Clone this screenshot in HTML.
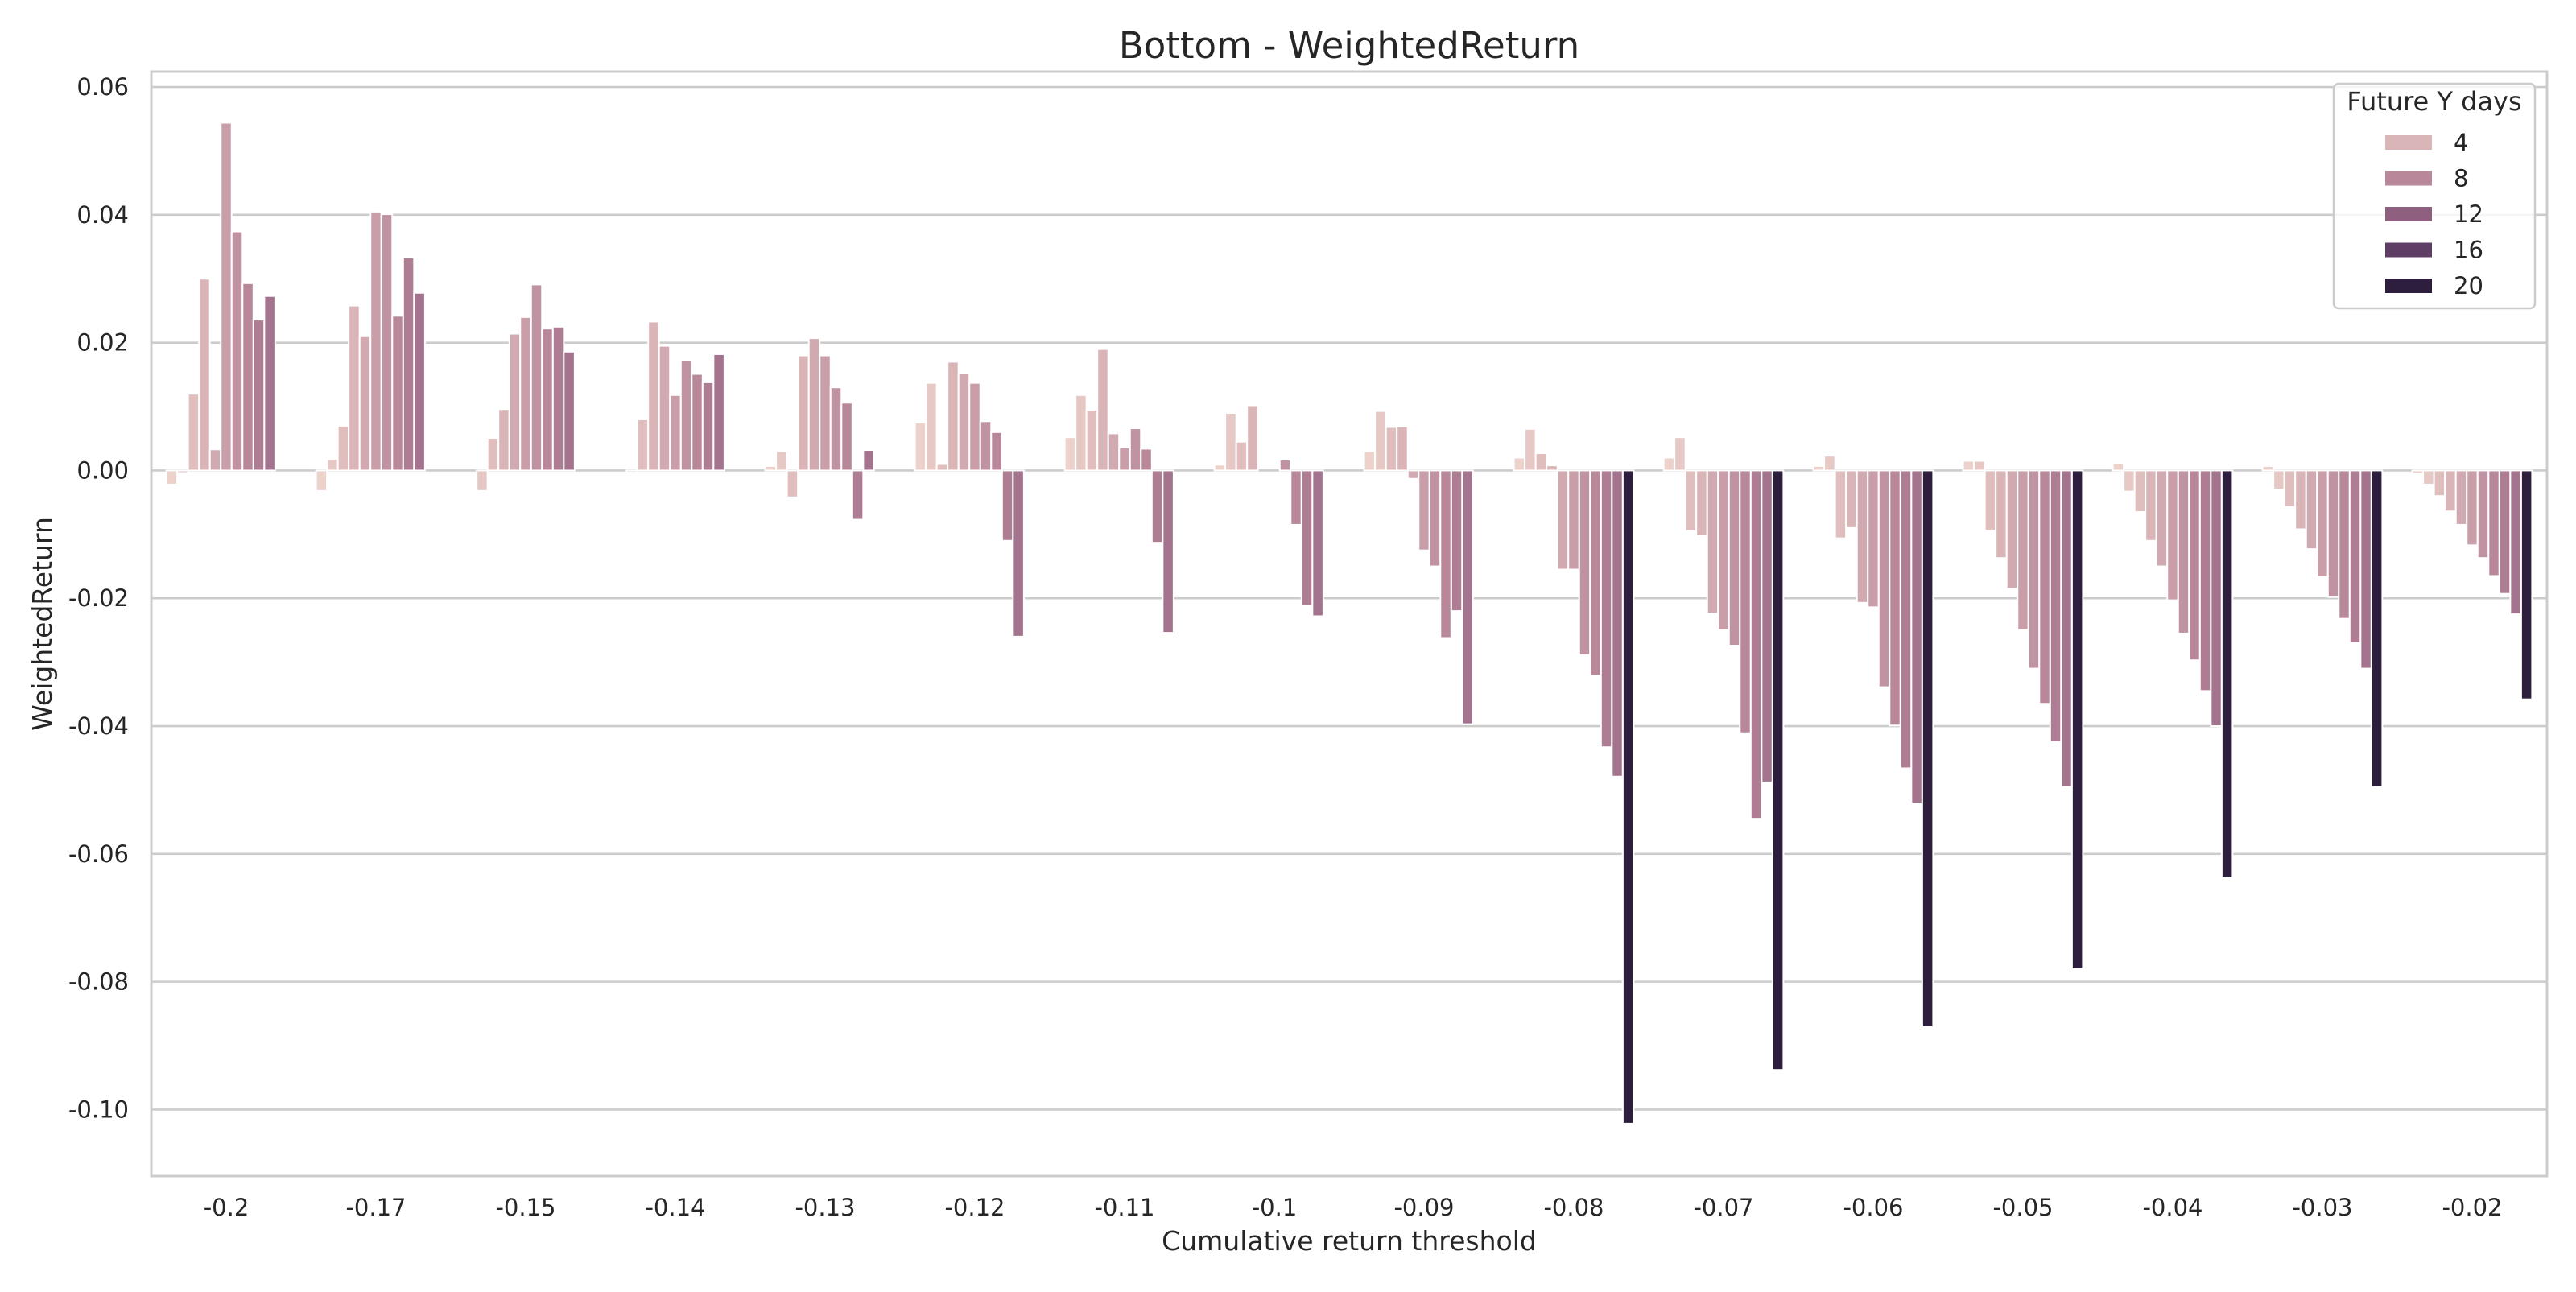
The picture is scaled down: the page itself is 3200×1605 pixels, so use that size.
<!DOCTYPE html>
<html><head><meta charset="utf-8"><style>
html,body{margin:0;padding:0;background:#fff;}
svg text{font-family:"DejaVu Sans","Liberation Sans",sans-serif;fill:#262626;}
</style></head><body>
<svg id="chart" width="3200" height="1600" viewBox="0 0 3200 1600" xmlns="http://www.w3.org/2000/svg">
<rect width="3200" height="1600" fill="#fff"/>
<g id="grid"></g>
<g id="bars"></g>
<g id="axes"></g>
</svg>
<script>
const categories = ["-0.2","-0.17","-0.15","-0.14","-0.13","-0.12","-0.11","-0.1","-0.09","-0.08","-0.07","-0.06","-0.05","-0.04","-0.03","-0.02"];
const hueLevels = [1,2,3,4,5,6,7,8,9,10,20];
const yTicks = [0.06,0.04,0.02,0,-0.02,-0.04,-0.06,-0.08,-0.10];
const yTickLabels = ["0.06","0.04","0.02","0.00","-0.02","-0.04","-0.06","-0.08","-0.10"];
const legendLevels = [4,8,12,16,20];
const g01 = [-0.0022,-0.0004,0.0120,0.0300,0.0033,0.0544,0.0374,0.0293,0.0236,0.0273,0];
const g02 = [-0.0032,0.0018,0.0070,0.0258,0.0210,0.0405,0.0401,0.0242,0.0333,0.0278,0];
const g03 = [0,-0.0032,0.0051,0.0096,0.0214,0.0240,0.0291,0.0222,0.0225,0.0186,0];
const g04 = [0,-0.0003,0.0080,0.0233,0.0195,0.0118,0.0173,0.0151,0.0138,0.0182,0];
const g05 = [0.0007,0.0030,-0.0042,0.0180,0.0207,0.0180,0.0130,0.0106,-0.0077,0.0032,0];
const g06 = [0.0075,0.0137,0.0010,0.0170,0.0153,0.0137,0.0077,0.0060,-0.0110,-0.0260,0];
const g07 = [0.0052,0.0118,0.0095,0.0190,0.0058,0.0036,0.0066,0.0034,-0.0113,-0.0254,0];
const g08 = [0.0009,0.0090,0.0045,0.0102,0,0,0.0017,-0.0085,-0.0212,-0.0228,0];
const g09 = [0.0030,0.0093,0.0068,0.0069,-0.0013,-0.0125,-0.0150,-0.0262,-0.0220,-0.0397,0];
const g10 = [0.0020,0.0065,0.0027,0.0008,-0.0155,-0.0155,-0.0289,-0.0321,-0.0433,-0.0479,-0.1022];
const g11 = [0.0020,0.0052,-0.0095,-0.0102,-0.0224,-0.0250,-0.0274,-0.0411,-0.0545,-0.0488,-0.0938];
const g12 = [0.0007,0.0023,-0.0106,-0.0090,-0.0207,-0.0214,-0.0339,-0.0399,-0.0466,-0.0521,-0.0871];
const g13 = [0.0015,0.0015,-0.0095,-0.0137,-0.0185,-0.0250,-0.0310,-0.0365,-0.0425,-0.0495,-0.0780];
const g14 = [0.0012,-0.0033,-0.0065,-0.0110,-0.0150,-0.0203,-0.0255,-0.0297,-0.0345,-0.0400,-0.0637];
const g15 = [0.0007,-0.0030,-0.0057,-0.0092,-0.0123,-0.0167,-0.0198,-0.0232,-0.0270,-0.0310,-0.0495];
const g16 = [-0.0005,-0.0022,-0.0040,-0.0064,-0.0085,-0.0117,-0.0137,-0.0165,-0.0193,-0.0225,-0.0358];
const seriesValues = [g01,g02,g03,g04,g05,g06,g07,g08,g09,g10,g11,g12,g13,g14,g15,g16];

const NS = "http://www.w3.org/2000/svg";
const L = 188, R = 3164, T = 89, B = 1461;
const yMax = 0.0624, yMin = -0.1104;
function yScale(v){ return T + (yMax - v) / (yMax - yMin) * (B - T); }
const step = (R - L) / categories.length;
function xScale(i){ return L + step * (i + 0.5); }
const groupW = step * 0.8, barW = groupW / hueLevels.length;
const anchors = [[1,[237,209,203]],[4,[217,181,184]],[8,[184,135,154]],[12,[143,95,128]],[16,[94,62,100]],[20,[45,30,62]]];
function color(h){
  for (let k=0;k<anchors.length-1;k++){
    const [a,ca]=anchors[k],[b,cb]=anchors[k+1];
    if (h>=a && h<=b){ const t=(h-a)/(b-a); return "rgb("+ca.map((c,j)=>Math.round(c+(cb[j]-c)*t)).join(",")+")"; }
  }
  return "rgb(45,30,62)";
}
function mk(tag, attrs, parent){ const e=document.createElementNS(NS,tag); for(const k in attrs) e.setAttribute(k,attrs[k]); parent.appendChild(e); return e; }

const grid = document.getElementById("grid"), bars = document.getElementById("bars"), axes = document.getElementById("axes");
yTicks.forEach((v,i)=>{
  const y = yScale(v);
  const ln = mk("line",{x1:L,x2:R,y1:y,y2:y,stroke:"#cccccc","stroke-width":2.6},grid);
  
  
  const t = mk("text",{x:160,y:y+10,"text-anchor":"end","font-size":29},axes);
  t.textContent = yTickLabels[i];
  
  
});
seriesValues.forEach((vals,ci)=>{
  const x0 = xScale(ci) - groupW/2;
  vals.forEach((v,hi)=>{
    const y0 = yScale(0), y1 = yScale(v);
    const r = mk("rect",{x:x0+hi*barW,y:Math.min(y0,y1),width:barW,height:Math.abs(y1-y0),fill:color(hueLevels[hi]),stroke:"#ffffff","stroke-width":2},bars);
    
    
  });
  const t = mk("text",{x:xScale(ci),y:1510,"text-anchor":"middle","font-size":29},axes);
  t.textContent = categories[ci];
  
  
});
const frame = mk("rect",{x:L,y:T,width:R-L,height:B-T,fill:"none",stroke:"#cccccc","stroke-width":3},axes);


const title = mk("text",{x:(L+R)/2,y:72,"text-anchor":"middle","font-size":45},axes);
title.textContent = "Bottom - WeightedReturn";


const xt = mk("text",{x:(L+R)/2,y:1553,"text-anchor":"middle","font-size":33},axes);
xt.textContent = "Cumulative return threshold";


const yt = mk("text",{x:0,y:0,"text-anchor":"middle","font-size":33,transform:"translate(64,"+((T+B)/2)+") rotate(-90)"},axes);
yt.textContent = "WeightedReturn";



const lg = mk("g",{},axes);


const lbox = mk("rect",{x:2899,y:104,width:250,height:279,rx:6,fill:"#ffffff","fill-opacity":0.8,stroke:"#cccccc","stroke-width":2.5},lg);


const lt = mk("text",{x:3024,y:137,"text-anchor":"middle","font-size":32},lg);
lt.textContent = "Future Y days";


legendLevels.forEach((h,i)=>{
  const cy = 177 + i*44.5;
  const p = mk("rect",{x:2963,y:cy-9,width:58,height:18,fill:color(h)},lg);
  
  
  const t = mk("text",{x:3048,y:cy+10,"font-size":29},lg);
  t.textContent = String(h);
  
  
});
</script>
</body></html>
